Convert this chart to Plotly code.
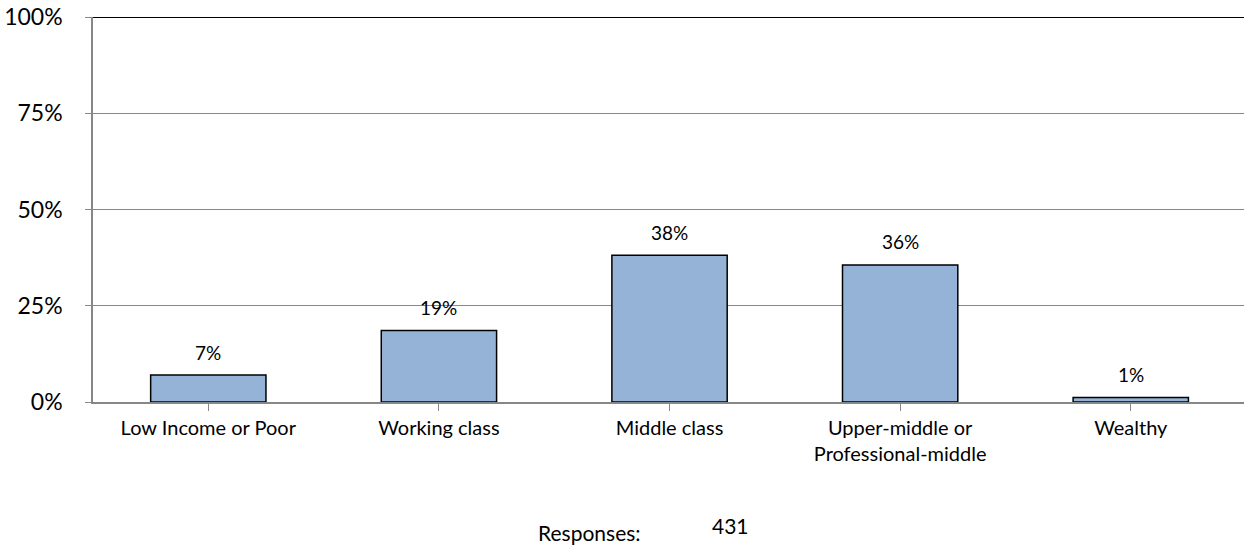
import plotly.graph_objects as go

categories = ["Low Income or Poor", "Working class", "Middle class",
              "Upper-middle or<br>Professional-middle", "Wealthy"]
values = [7.0, 18.6, 38.1, 35.6, 1.2]
value_labels = ["7%", "19%", "38%", "36%", "1%"]
y_ticks = [0, 25, 50, 75, 100]
y_tick_labels = ["0%", "25%", "50%", "75%", "100%"]
responses_label = "Responses:"
responses_count = "431"

FONT = "Lato"
GRID = "#878787"

fig = go.Figure()
fig.add_trace(go.Bar(
    x=list(range(len(categories))),
    y=values,
    width=0.5,
    marker=dict(color="#95B3D7", line=dict(color="black", width=1.5)),
    hoverinfo="skip",
))

for i, (v, lab) in enumerate(zip(values, value_labels)):
    fig.add_annotation(x=i, y=v, text=lab, showarrow=False, yshift=23,
                       yanchor="middle", font=dict(family=FONT, size=19, color="black"))

fig.add_annotation(xref="paper", yref="paper", x=0.431, y=-0.338, text=responses_label,
                   showarrow=False, font=dict(family=FONT, size=21, color="black"),
                   xanchor="center", yanchor="middle")
fig.add_annotation(xref="paper", yref="paper", x=0.554, y=-0.322, text=responses_count,
                   showarrow=False, font=dict(family=FONT, size=21, color="black"),
                   xanchor="center", yanchor="middle")

# top border line at 100%
fig.add_shape(type="line", xref="paper", yref="y", x0=0, x1=1, y0=100, y1=100,
              line=dict(color="black", width=2))

fig.update_layout(
    width=1244, height=547,
    margin=dict(l=93, r=0, t=17, b=145, autoexpand=False),
    paper_bgcolor="white", plot_bgcolor="white",
    showlegend=False,
    font=dict(family=FONT, color="black"),
    xaxis=dict(
        range=[-0.5, 4.491],
        automargin=False,
        tickmode="array",
        tickvals=list(range(len(categories))),
        ticktext=categories,
        tickson="boundaries",
        ticks="outside", ticklen=7, tickcolor=GRID, tickwidth=1,
        showline=True, linecolor=GRID, linewidth=1.5,
        showgrid=False, zeroline=False,
        tickfont=dict(family=FONT, size=20, color="black"),
    ),
    yaxis=dict(
        range=[0, 100],
        automargin=False,
        tickmode="array", tickvals=y_ticks, ticktext=y_tick_labels,
        ticks="outside", ticklen=6, tickcolor=GRID, tickwidth=1,
        showline=True, linecolor=GRID, linewidth=1.5,
        showgrid=True, gridcolor=GRID, gridwidth=1,
        zeroline=False,
        ticklabelstandoff=18,
        tickfont=dict(family=FONT, size=23, color="black"),
    ),
)

fig.write_html("out.html", config={"displayModeBar": False},
               post_script="document.body.style.margin='0';")
